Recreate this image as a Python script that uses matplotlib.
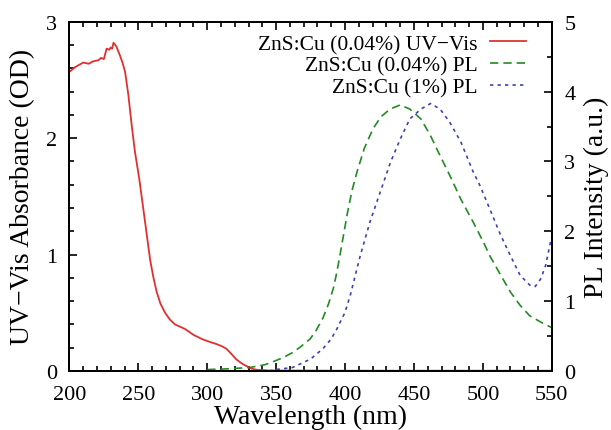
import numpy as np
import matplotlib
matplotlib.use("Agg")
import matplotlib.pyplot as plt
from matplotlib.ticker import MultipleLocator

plt.rcParams['font.family'] = ['Liberation Serif', 'DejaVu Serif']

# UV-Vis absorbance, ZnS:Cu (0.04%)
uv_wl = [200, 204, 207, 210, 214, 217, 221, 223, 225, 227, 229, 230, 231, 232, 234,
         236.7, 238.5, 240.4, 242.8, 245.2, 247.6, 250.7, 254.9, 258.5, 261, 263.3, 266,
         269.4, 273, 276.6, 284, 290, 297, 303, 307, 311, 314, 318, 321, 325, 328, 332,
         336, 345, 400, 550]
uv_abs = [2.57, 2.61, 2.63, 2.65, 2.64, 2.66, 2.67, 2.69, 2.68, 2.77, 2.76, 2.78, 2.77, 2.82, 2.79,
          2.71, 2.65, 2.57, 2.37, 2.11, 1.88, 1.65, 1.28, 0.96, 0.80, 0.68, 0.58,
          0.50, 0.44, 0.40, 0.36, 0.31, 0.27, 0.245, 0.23, 0.21, 0.19, 0.14, 0.10, 0.065, 0.045, 0.02,
          0.01, 0.004, 0.002, 0.002]

# PL, ZnS:Cu (0.04%)
pl1_wl = [300, 315, 331, 342, 350, 356, 362.5, 368, 374.7, 379, 384, 388, 391.6, 394, 396.5, 399,
          401.5, 405, 408.8, 414, 420.3, 426, 432.6, 440, 447, 455, 462, 469, 476, 484, 493, 500,
          505, 513, 520, 527, 534, 542, 550]
pl1_int = [0.02, 0.03, 0.05, 0.09, 0.15, 0.20, 0.27, 0.35, 0.46, 0.58, 0.76, 0.96, 1.19, 1.41, 1.68, 1.96,
           2.24, 2.58, 2.86, 3.19, 3.47, 3.64, 3.75, 3.81, 3.75, 3.61, 3.37, 3.08, 2.80, 2.46, 2.13, 1.86,
           1.65, 1.37, 1.13, 0.94, 0.79, 0.70, 0.62]

# PL, ZnS:Cu (1%)
pl2_wl = [345, 350, 362, 375, 384, 390, 394, 400, 404, 411, 418, 425.5, 433, 440, 447, 455, 462,
          469, 476, 484, 493, 498, 505, 513, 520, 527, 534.5, 538, 542, 545.5, 549, 550]
pl2_int = [0.0, 0.02, 0.05, 0.17, 0.32, 0.46, 0.60, 0.84, 1.10, 1.65, 2.13, 2.56, 2.99, 3.32, 3.61, 3.75, 3.83,
           3.75, 3.56, 3.28, 2.85, 2.65, 2.32, 1.94, 1.65, 1.37, 1.22, 1.21, 1.32, 1.51, 1.84, 1.92]

fig = plt.figure(figsize=(6.11, 4.31), dpi=100)
ax = fig.add_axes([0.1136, 0.137, 0.7895, 0.810])
ax2 = ax.twinx()

l1, = ax.plot(uv_wl, uv_abs, color='#e03030', lw=1.3, label='ZnS:Cu (0.04%) UV\u2212Vis')
l2, = ax2.plot(pl1_wl, pl1_int, color='#228b22', lw=1.2, dashes=(5, 3), label='ZnS:Cu (0.04%) PL')
l3, = ax2.plot(pl2_wl, pl2_int, color='#4040b0', lw=1.2, dashes=(2, 2.5), label='ZnS:Cu (1%) PL')

ax.set_xlim(200, 550)
ax.set_ylim(0, 3)
ax2.set_ylim(0, 5)

ax.xaxis.set_major_locator(MultipleLocator(50))
ax.xaxis.set_minor_locator(MultipleLocator(10))
ax.yaxis.set_major_locator(MultipleLocator(1))
ax.yaxis.set_minor_locator(MultipleLocator(0.2))
ax2.yaxis.set_major_locator(MultipleLocator(1))
ax2.yaxis.set_minor_locator(MultipleLocator(0.5))

ax.tick_params(which='both', direction='in', top=True, right=False, labelsize=16, width=1.2)
ax.tick_params(which='major', length=6)
ax.tick_params(which='minor', length=3.5)
ax.tick_params(axis='x', pad=10)
ax.tick_params(axis='y', pad=9)
ax2.tick_params(which='both', direction='in', labelsize=16, width=1.2, pad=9)
ax2.tick_params(which='major', length=6)
ax2.tick_params(which='minor', length=3.5)
for a in (ax, ax2):
    for s in a.spines.values():
        s.set_linewidth(1.3)

ax.set_xlabel('Wavelength (nm)', fontsize=20, labelpad=0)
ax.set_ylabel('UV\u2212Vis Absorbance (OD)', fontsize=20, labelpad=8)
ax2.set_ylabel('PL Intensity (a.u.)', fontsize=20, labelpad=6)

ax2.legend(handles=[l1, l2, l3], loc='upper right', frameon=False, markerfirst=False,
           fontsize=15.5, handlelength=1.7, handletextpad=0.55, labelspacing=0.08,
           borderaxespad=0, bbox_to_anchor=(0.965, 0.99))

fig.savefig('out.png', dpi=100)
